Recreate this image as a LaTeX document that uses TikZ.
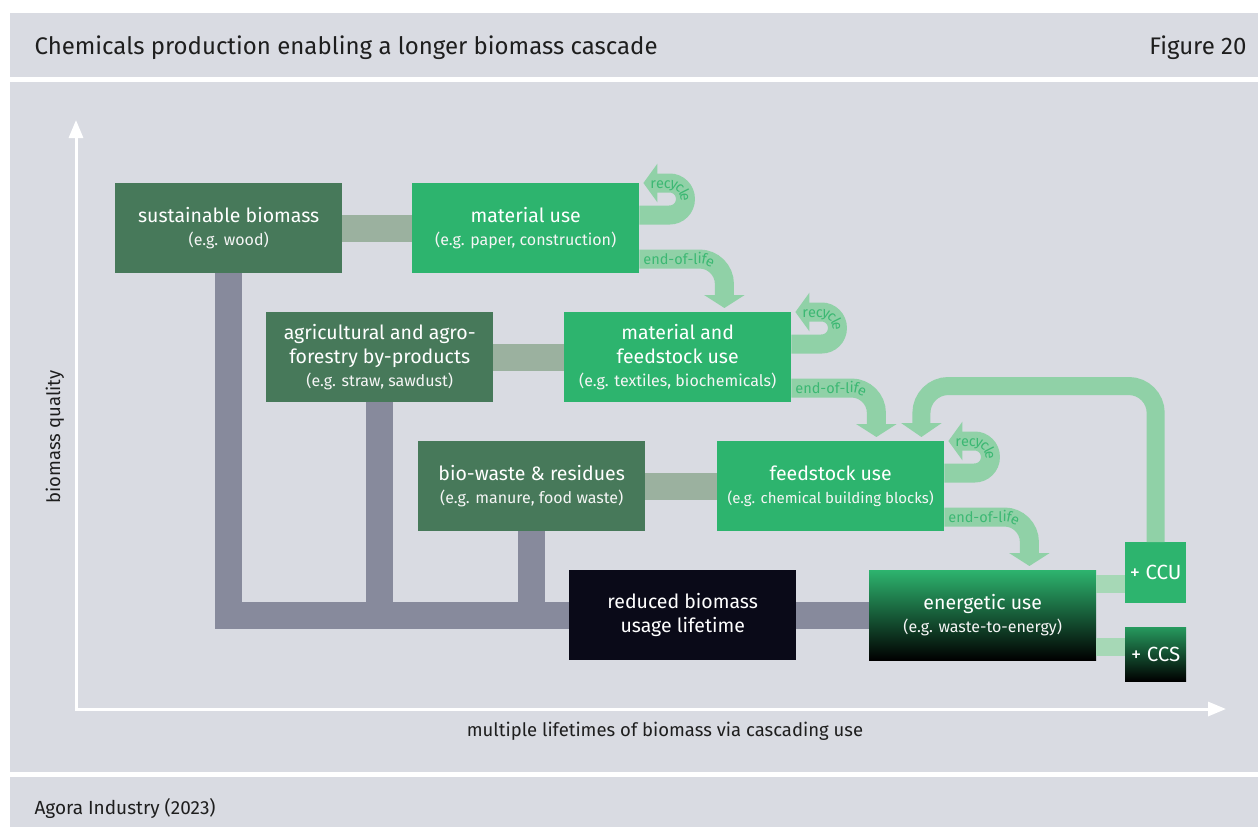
\documentclass[tikz,border=0pt]{standalone}
\usepackage{fontspec}
\setmainfont{Fira Sans}
\usetikzlibrary{arrows.meta,calc,decorations.text}
\definecolor{bg}{HTML}{D9DBE2}
\definecolor{dkgreen}{HTML}{47795A}
\definecolor{brgreen}{HTML}{2DB46E}
\definecolor{ggbar}{HTML}{9BB19F}
\definecolor{gbar}{HTML}{878A9C}
\definecolor{lgarrow}{HTML}{90D1A7}
\definecolor{lgbar}{HTML}{A6D8B6}
\definecolor{txtg}{HTML}{3CB873}
\definecolor{blackbox}{HTML}{0A0A18}
\definecolor{ink}{HTML}{1E1E1E}
\tikzset{
  boxbase/.style={minimum width=227pt, minimum height=90pt, inner sep=0pt, anchor=north west,
    text=white, align=center, font=\fontsize{19.5}{23.5}\selectfont},
  dkbox/.style={boxbase, fill=dkgreen},
  brbox/.style={boxbase, fill=brgreen},
  blkbox/.style={boxbase, fill=blackbox},
  grbox/.style={boxbase, top color=brgreen, bottom color=black},
  smallbox/.style={minimum width=61pt, inner sep=0pt, anchor=north west, text=white,
    font=\fontsize{20.5}{24}\selectfont},
  ggconn/.style={draw=ggbar, line width=27pt},
  gconn/.style={draw=gbar, line width=27pt},
  lgconn/.style={draw=lgbar, line width=18pt},
  flow/.style={draw=lgarrow, line width=19pt},
  bandtext/.style={decorate, decoration={text along path, raise=-5pt,
    text={|\fontsize{14.5}{14.5}\selectfont\color{txtg}|#1}}},
}
\newcommand\subline[1]{{\fontsize{16}{20}\selectfont\color{white!92!gray}#1}}
\newcommand\recyc[1]{%
  \draw[flow, rounded corners=15.75pt, -{Triangle[width=38pt,length=14pt]}]
    ($(#1.north east)+(0,32)$) -- ++(46,0) -- ++(0,-32) -- ($(#1.north east)+(4,0)$);
  \path[rounded corners=15.75pt, bandtext=recycle]
    ($(#1.north east)+(11,0)$) -- ++(35,0) -- ++(0,32) -- ++(-25,0);
}
\newcommand\eolarrow[1]{%
  \draw[flow, rounded corners=25pt, -{Triangle[width=40pt,length=13pt]}]
    ($(#1.north east)+(0,76)$) -| ($(#1.north east)+(85,125)$);
  \path[rounded corners=25pt, bandtext=end-of-life]
    ($(#1.north east)+(4,76)$) -| ($(#1.north east)+(85,125)$);
}
\begin{document}
\begin{tikzpicture}[x=1pt,y=-1pt]
\useasboundingbox (0,0) rectangle (1258,827);
\fill[white] (0,0) rectangle (1258,827);
\fill[bg] (10,13) rectangle (1258,77);
\fill[bg] (10,82) rectangle (1258,772);
\fill[bg] (10,777) rectangle (1258,827);

\node[anchor=west, text=ink, font=\fontsize{24}{28}\selectfont] (title) at (31,48) {Chemicals production enabling a longer biomass cascade};
\node[anchor=east, text=ink, font=\fontsize{24}{28}\selectfont] (fig) at (1250,48) {Figure 20};
\node[anchor=west, text=ink, font=\fontsize{19}{22}\selectfont] (src) at (31,808) {Agora Industry (2023)};

% axes
\coordinate (ytip) at (76,120);
\coordinate (orig) at (76,709);
\coordinate (xtip) at (1226,709);
\draw[white, line width=3pt, {Triangle[width=14pt,length=18pt]}-{Triangle[width=14pt,length=18pt]}]
  (ytip) -- (orig) -- (xtip);
\node[rotate=90, text=ink, font=\fontsize{18.5}{22}\selectfont] (ylab) at (55,437) {biomass quality};
\node[text=ink, font=\fontsize{18.5}{22}\selectfont] (xlab) at (665,731) {multiple lifetimes of biomass via cascading use};

% boxes
\node[dkbox] (sb) at (115,183) {sustainable biomass\\\subline{(e.g. wood)}};
\node[brbox] (mu) at (412,183) {material use\\\subline{(e.g. paper, construction)}};
\node[dkbox] (ag) at (266,312) {agricultural and agro-\\forestry by-products\\\subline{(e.g. straw, sawdust)}};
\node[brbox] (mf) at (564,312) {material and\\feedstock use\\\subline{(e.g. textiles, biochemicals)}};
\node[dkbox] (bw) at (418,441) {bio-waste \& residues\\\subline{(e.g. manure, food waste)}};
\node[brbox] (fs) at (717,441) {feedstock use\\\subline{\fontsize{15}{20}\selectfont(e.g. chemical building blocks)}};
\node[blkbox] (rb) at (569,570) {reduced biomass\\usage lifetime};
\node[grbox] (en) at (869,570) {energetic use\\\subline{(e.g. waste-to-energy)}};
\node[smallbox, minimum height=61pt, fill=brgreen] (ccu) at (1125,542) {+ CCU};
\node[smallbox, minimum height=54pt, top color=brgreen!85!black, bottom color=black] (ccs) at (1125,627) {+ CCS};

% connectors
\draw[ggconn] (sb) -- (mu);
\draw[ggconn] (ag) -- (mf);
\draw[ggconn] (bw) -- (fs);
\draw[gconn] (sb.south) |- (rb.west);
\draw[gconn] (ag.south) -- (ag.south |- rb.west);
\draw[gconn] (bw.south) -- (bw.south |- rb.west);
\draw[gconn] (rb) -- (en);
\draw[lgconn] ([yshift=-14pt]en.north east) -- ([yshift=-14pt]en.north east -| ccu.west);
\draw[lgconn] ([yshift=-76.5pt]en.north east) -- ([yshift=-76.5pt]en.north east -| ccs.west);

% cascade arrows
\recyc{mu}
\recyc{mf}
\recyc{fs}
\eolarrow{mu}
\eolarrow{mf}
\eolarrow{fs}
\draw[draw=lgarrow, line width=18pt, rounded corners=27pt, -{Triangle[width=40pt,length=14pt]}]
  (ccu.north) |- ($(fs.north east)+(-23,-55)$) -- ($(fs.north east)+(-23,-4)$);
\end{tikzpicture}
\end{document}
